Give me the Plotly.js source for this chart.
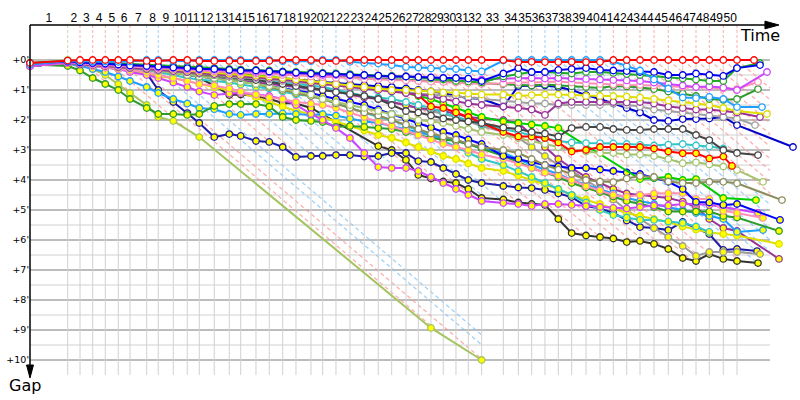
<!DOCTYPE html>
<html><head><meta charset="utf-8">
<script src="https://cdn.plot.ly/plotly-3.0.1.min.js"></script>
<style>html,body{margin:0;padding:0;background:#fff}#c{width:800px;height:400px}</style>
</head><body><div id="c"></div>
<script>
// leader's lap end times (s), index 0 = start
const LAP_END = [0, 64.1, 85.0, 106.6, 128.0, 150.1, 170.0, 198.4, 218.1, 243.6, 267.4, 287.8, 313.3, 338.8, 358.2, 384.2, 406.8, 429.6, 452.2, 477.7, 497.6, 520.2, 544.0, 568.3, 592.1, 614.9, 639.2, 660.2, 681.7, 702.6, 724.2, 745.2, 767.9, 804.7, 830.2, 852.9, 875.5, 898.2, 920.9, 945.3, 969.1, 991.7, 1014.5, 1037.1, 1060.9, 1085.2, 1109.7, 1132.3, 1154.9, 1178.7, 1202.0];
const LAP_LABELS = Array.from({length:50},(_,i)=>String(i+1));
// leader of each lap: g = yellow-green car, r = red car, b = light blue car
const LAP_LEADER = ['g','r','r','r','r','r','b','b','r','r','b','b','b','b','b','b','r','r','r','b','b','r','r','r','r','r','r','r','r','r','r','r','r','b','b','b','b','b','b','b','r','r','r','r','r','r','r','r','r','r'];
const GAP_TICKS = [0,1,2,3,4,5,6,7,8,9,10];
const GAP_LABELS = GAP_TICKS.map(v=>"+"+v+"'");
const T_GRID_END = 1258;
const STOPPED_CAR = 'YG_Y';      // car that stood still from lap 11
const GUIDES_FOLLOWING_STOPPED = 8; // guide lines of laps 1..8 run down along that car

// gaps (minutes) per lap 0..50
const RED_W = [0.1,0.02,0,0,0,0,0,0.03,0.03,0,0,0.03,0.03,0.03,0.03,0.03,0.03,0,0,0,0.03,0.03,0,0,0,0,0,0,0,0,0,0,0,0,0.07,0.06,0.07,0.07,0.06,0.07,0.07,0,0,0,0,0,0,0,0,0,0];
const LB_W = [0.15,0.03,0.04,0.05,0.05,0.06,0.05,0,0,0.03,0.03,0,0,0,0,0,0,0.04,0.05,0.04,0,0,0.06,0.1,0.12,0.17,0.23,0.25,0.28,0.3,0.3,0.35,0.38,0.02,0,0,0,0,0,0,0,0.05,0.2,0.35,0.65,0.95,1.25,1.27,1.23,1.3,1.57];
const BLUE_W = [0.12,0.05,0.08,0.1,0.12,0.15,0.18,0.2,0.22,0.25,0.27,0.3,0.3,0.33,0.35,0.35,0.38,0.4,0.42,0.45,0.45,0.47,0.5,0.5,0.52,0.55,0.55,0.57,0.58,0.6,0.6,0.62,0.7,0.45,0.27,0.4,0.4,0.33,0.3,0.27,0.33,0.35,0.37,0.4,0.4,0.5,0.5,0.45,0.5,0.53,0.27];
const GREEN_W = [0.1,0.03,0.05,0.07,0.08,0.1,0.12,0.15,0.17,0.2,0.22,0.25,0.27,0.3,0.32,0.33,0.35,0.38,0.4,0.42,0.43,0.45,0.47,0.5,0.52,0.53,0.55,0.58,0.62,0.65,0.7,0.72,0.75,0.55,0.47,0.4,0.4,0.42,0.45,0.4,0.4,0.43,0.47,0.5,0.55,0.6,0.62,0.65,0.7,0.7,0.27];
const MAG_W = [0.2,0.08,0.1,0.12,0.15,0.17,0.2,0.22,0.25,0.27,0.3,0.32,0.33,0.35,0.38,0.4,0.42,0.43,0.45,0.47,0.5,0.5,0.52,0.53,0.55,0.55,0.55,0.57,0.58,0.6,0.62,0.63,0.65,0.62,0.6,0.6,0.62,0.6,0.62,0.63,0.65,0.67,0.68,0.7,0.75,0.8,0.85,0.9,0.88,0.92,1.0];
const PINK_W = [0.2,0.1,0.12,0.15,0.18,0.2,0.22,0.25,0.28,0.3,0.33,0.35,0.38,0.4,0.43,0.45,0.48,0.5,0.52,0.55,0.57,0.6,0.62,0.63,0.65,0.67,0.68,0.7,0.72,0.73,0.75,0.77,0.8,0.78,0.75,0.75,0.73,0.72,0.75,0.78,0.8,0.82,0.83,0.83,0.85,0.87,0.9,0.9,0.92,0.95,0.97];
const GREEN2_W = [0.15,0.1,0.12,0.15,0.17,0.2,0.22,0.25,0.27,0.3,0.32,0.35,0.37,0.4,0.42,0.45,0.47,0.48,0.5,0.52,0.53,0.55,0.57,0.6,0.62,0.63,0.65,0.68,0.7,0.72,0.73,0.75,0.78,0.8,0.83,0.85,0.82,0.85,0.88,0.9,0.93,0.87,0.88,0.92,0.97,1.05,1.12,1.2,1.3,1.33,1.3];
const YELLOW_W = [0.15,0.05,0.08,0.12,0.15,0.18,0.22,0.25,0.28,0.32,0.35,0.38,0.42,0.45,0.48,0.52,0.55,0.6,0.65,0.7,0.75,0.8,0.85,0.9,0.95,1.0,1.0,1.02,1.05,1.08,1.1,1.12,1.15,1.15,1.2,1.17,1.15,1.15,1.17,1.2,1.2,1.2,1.22,1.25,1.3,1.35,1.4,1.45,1.5,1.6,1.7];
const PURPLE_W = [0.2,0.1,0.13,0.17,0.2,0.23,0.27,0.3,0.33,0.37,0.4,0.43,0.47,0.5,0.53,0.57,0.6,0.65,0.7,0.75,0.8,0.85,0.9,0.95,1.0,1.05,1.1,1.15,1.2,1.3,1.38,1.45,1.5,1.55,1.6,1.65,1.83,1.45,1.4,1.4,1.4,1.4,1.42,1.4,1.45,1.55,1.6,1.65,1.65,1.7,1.75];
const GRAY_W = [0.2,0.1,0.12,0.15,0.2,0.25,0.28,0.3,0.35,0.38,0.4,0.45,0.5,0.55,0.58,0.6,0.65,0.7,0.75,0.78,0.8,0.85,0.9,0.95,1.0,1.05,1.1,1.12,1.15,1.18,1.2,1.25,1.3,1.35,1.4,1.45,1.45,1.5,1.5,1.5,1.5,1.45,1.5,1.55,1.65,1.7,1.75,1.8,1.85,1.9,1.95];
const BLUE2_W = [0.2,0.1,0.13,0.15,0.18,0.2,0.23,0.27,0.3,0.33,0.37,0.4,0.43,0.47,0.5,0.55,0.58,0.62,0.65,0.7,0.73,0.77,0.8,0.83,0.87,0.9,0.95,1.0,1.05,1.1,1.2,1.27,1.3,1.55,0.87,0.85,0.85,0.9,1.0,1.17,1.3,1.45,1.6,1.75,2.0,2.03,1.97,1.97,1.95,1.9,2.17];
const DGRAY_W = [0.2,0.08,0.1,0.13,0.17,0.2,0.23,0.27,0.3,0.35,0.4,0.45,0.5,0.55,0.6,0.67,0.73,0.8,0.87,0.93,1.0,1.07,1.13,1.2,1.3,1.5,1.7,1.75,1.85,1.95,2.0,2.05,2.1,2.25,2.3,2.4,2.45,2.55,2.27,2.23,2.23,2.3,2.33,2.33,2.3,2.3,2.3,2.5,2.67,3.0,3.1];
const RED_Y = [0.2,0.1,0.12,0.15,0.18,0.2,0.22,0.25,0.28,0.3,0.33,0.38,0.42,0.45,0.5,0.55,0.58,0.62,0.65,0.7,0.75,0.8,0.85,0.9,0.95,1.0,1.1,1.17,1.55,1.6,1.75,1.9,2.1,2.4,2.55,2.55,2.6,2.75,3.05,3.0,2.9,2.9,2.9,2.9,2.95,3.05,3.11,3.11,3.28,3.22,null];
const CYAN_W = [0.15,0.05,0.08,0.1,0.13,0.17,0.2,0.25,0.3,0.35,0.4,0.45,0.5,0.55,0.6,0.65,0.7,0.75,0.8,0.85,0.9,1.0,1.1,1.2,1.25,1.3,1.4,1.5,1.6,1.75,1.9,2.0,2.15,2.3,2.4,2.5,2.6,2.7,2.75,2.77,2.77,2.78,2.8,2.83,2.85,2.82,2.8,2.85,2.88,2.95,null];
const YG_W = [0.2,0.1,0.13,0.15,0.2,0.25,0.28,0.32,0.37,0.42,0.5,0.55,0.6,0.67,0.73,0.8,0.87,0.95,1.05,1.15,1.3,1.4,1.5,1.6,1.7,1.8,1.9,2.0,2.05,2.1,2.2,2.3,2.4,2.5,2.6,2.7,2.8,2.9,3.0,3.05,3.1,3.1,3.15,3.15,3.2,3.3,3.44,3.41,3.48,3.55,3.67];
const OLIVE_W = [0.2,0.1,0.12,0.15,0.18,0.22,0.25,0.3,0.35,0.4,0.45,0.5,0.55,0.6,0.7,0.8,0.9,1.0,1.1,1.2,1.3,1.45,1.6,1.75,1.85,2.0,2.15,2.3,2.45,2.55,2.65,2.8,2.9,3.0,3.1,3.3,3.5,3.65,3.8,4.0,4.05,4.07,3.95,3.87,3.9,4.05,4.1,4.1,4.06,4.06,4.11];
const BGREEN_Y = [0.15,0.05,0.08,0.1,0.12,0.15,0.18,0.2,0.23,0.26,0.3,0.33,0.37,0.4,0.45,0.5,0.55,0.6,0.65,0.7,0.75,0.8,0.85,0.9,0.95,1.0,1.1,1.2,1.3,1.45,1.6,1.75,1.9,2.05,2.1,2.15,2.2,2.27,null,null,null,null,null,3.97,3.93,3.9,4.0,3.97,null,4.6,null];
const BLUE_Y = [0.15,0.08,0.1,0.13,0.17,0.2,0.25,0.3,0.35,0.4,0.5,0.55,0.6,0.65,0.72,0.8,0.87,0.95,1.03,1.1,1.2,1.3,1.4,1.5,1.65,1.8,1.95,2.1,2.25,2.4,2.5,2.65,2.8,3.2,3.3,3.4,3.5,3.55,3.6,3.6,3.65,3.7,3.75,3.8,3.93,4.06,4.3,4.73,4.75,4.83,4.8];
const PINK_Y = [0.2,0.1,0.15,0.2,0.25,0.3,0.35,0.4,0.5,0.6,0.7,0.8,0.85,0.95,1.05,1.15,1.25,1.3,1.4,1.45,1.5,1.6,1.75,1.9,2.05,2.2,2.35,2.5,2.65,2.8,2.9,3.0,3.15,3.3,3.45,3.6,3.75,3.85,4.0,4.2,4.35,4.5,4.55,4.5,4.45,4.44,4.44,4.63,4.63,5.03,5.1];
const MAG_Y = [0.2,0.1,0.15,0.2,0.25,0.3,0.4,0.5,0.6,0.75,0.9,1.05,1.17,1.12,1.1,1.15,1.2,1.3,1.5,1.8,2.0,2.27,2.6,3.1,3.57,3.6,3.6,3.7,3.9,4.1,4.3,4.5,4.7,4.77,4.8,4.87,4.8,4.8,4.83,4.87,4.9,4.93,4.95,4.9,4.85,4.85,4.8,4.8,4.83,4.9,null];
const DGREEN_Y = [0.15,0.2,0.35,0.6,0.8,1.0,1.3,1.6,1.8,1.8,1.83,1.8,1.53,1.47,1.47,1.47,1.55,1.9,2.0,2.03,2.07,2.23,2.2,2.23,2.27,2.3,2.4,2.5,2.6,2.65,2.7,2.8,2.95,3.2,3.4,3.6,3.75,3.9,4.1,4.25,4.4,4.55,4.7,4.8,4.9,5.05,5.05,5.05,5.05,5.2,5.25];
const LB_Y = [0.2,0.1,0.2,0.3,0.4,0.55,0.7,0.9,1.1,1.3,1.45,1.6,1.64,1.8,1.83,1.8,1.8,1.78,1.8,1.83,1.8,1.85,1.95,2.05,2.1,2.2,2.3,2.4,2.5,2.6,2.7,2.8,2.95,3.1,3.3,3.5,3.65,3.8,4.0,4.15,4.3,4.45,4.6,4.7,4.8,4.9,5.0,5.1,5.2,5.3,5.73];
const CYAN_Y = [0.15,0.08,0.1,0.15,0.2,0.25,0.3,0.35,0.4,0.5,0.6,0.65,0.7,0.75,0.82,0.9,0.95,1.05,1.15,1.2,1.3,1.45,1.6,1.75,1.9,2.0,2.2,2.35,2.5,2.7,2.9,3.1,3.3,3.5,3.7,3.9,4.1,4.3,4.5,4.75,5.0,5.17,5.25,5.33,5.33,5.38,5.43,5.55,5.73,null,null];
const YELLOW_Y = [0.2,0.1,0.15,0.2,0.25,0.3,0.35,0.45,0.55,0.6,0.7,0.8,0.9,1.0,1.1,1.25,1.4,1.55,1.7,1.8,1.9,2.05,2.2,2.35,2.5,2.6,2.75,2.9,3.05,3.2,3.3,3.45,3.6,3.7,3.85,4.0,4.15,4.3,4.5,4.65,4.8,4.95,5.1,5.2,5.3,5.4,5.55,5.65,5.75,5.8,5.85];
const PURPLE_Y = [0.2,0.1,0.13,0.15,0.2,0.23,0.27,0.3,0.35,0.42,0.5,0.55,0.6,0.65,0.7,0.75,0.8,0.85,0.9,0.95,1.0,1.05,1.15,1.25,1.3,1.4,1.5,1.6,1.65,1.7,1.8,1.9,1.95,2.0,2.1,2.5,2.9,3.3,3.6,3.9,4.1,4.3,4.45,4.5,4.55,4.6,4.72,4.9,5.3,5.6,5.7];
const GRAY_Y = [0.2,0.1,0.13,0.17,0.2,0.25,0.3,0.33,0.38,0.42,0.47,0.5,0.55,0.6,0.65,0.7,0.75,0.8,0.85,0.9,1.0,1.05,1.1,1.2,1.3,1.4,1.5,1.6,1.7,1.8,1.9,2.05,2.2,2.4,2.6,2.9,3.2,3.5,3.7,4.0,4.3,4.65,5.0,5.3,5.6,5.9,6.2,6.53,6.4,6.4,6.4];
const NAVY_Y = [0.1,0.12,0.15,0.2,0.25,0.3,0.35,0.45,1.0,1.4,1.77,2.1,2.57,2.47,2.53,2.7,2.73,2.9,3.23,3.2,3.2,3.17,3.17,3.22,3.2,3.1,3.1,3.37,3.4,3.6,3.8,4.0,4.1,4.2,4.25,4.27,4.33,4.45,4.57,4.87,4.95,5.1,5.35,5.57,5.6,5.67,5.4,5.6,5.8,6.33,6.3];
const DGRAY_Y = [0.1,0.05,0.08,0.1,0.15,0.2,0.25,0.3,0.35,0.4,0.43,0.6,0.85,1.17,1.15,1.2,1.3,1.43,1.45,1.6,null,null,null,null,2.87,3.0,3.33,3.83,3.95,4.05,4.1,4.3,4.6,4.65,4.75,4.8,4.83,5.3,5.77,5.85,5.9,5.95,6.07,6.03,6.13,6.3,6.6,6.7,6.47,6.63,6.7];
const YG_Y = [0.15,0,0.15,0.3,0.5,0.8,1.1,1.5,1.9,2.03,null,2.57,null,null,null,null,null,null,null,null,null,null,null,null,null,null,null,null,8.93,null,null,null,10.0,null,null,null,null,null,null,null,null,null,null,null,null,null,null,null,null,null,null];

// name, gaps, line colour, marker fill, finish time (s), finish gap (min)
const SERIES = [
 ['YG_Y',YG_Y,'#a3c45e','#ffff00',null,null],
 ['DGRAY_Y',DGRAY_Y,'#333333','#ffff00',1237.7,6.77],
 ['NAVY_Y',NAVY_Y,'#1c1ca8','#ffff00',1236.0,6.37],
 ['GRAY_Y',GRAY_Y,'#9a9a9a','#ffff00',1241.1,6.47],
 ['PURPLE_Y',PURPLE_Y,'#993399','#ffff00',1273.4,6.63],
 ['YELLOW_Y',YELLOW_Y,'#dede00','#ffff00',1273.4,6.13],
 ['CYAN_Y',CYAN_Y,'#33c6c6','#ffff00',null,null],
 ['LB_Y',LB_Y,'#1e9fff','#ffff00',1246.2,5.67],
 ['DGREEN_Y',DGREEN_Y,'#2e9b2e','#ffff00',1273.4,5.7],
 ['MAG_Y',MAG_Y,'#cc44ff','#ffff00',1237.7,5.1],
 ['PINK_Y',PINK_Y,'#ff8fb4','#ffff00',1246.2,5.27],
 ['BLUE_Y',BLUE_Y,'#0000ff','#ffff00',1275.1,5.33],
 ['BGREEN_Y',BGREEN_Y,'#00cc00','#ffff00',1234.2,4.67],
 ['OLIVE_W',OLIVE_W,'#8c8c5a','#ffffff',1278.5,4.67],
 ['YG_W',YG_W,'#a3c46b','#ffffff',1246.2,4.06],
 ['CYAN_W',CYAN_W,'#33c6c6','#ffffff',null,null],
 ['RED_Y',RED_Y,'#ff0000','#ffff00',1193.5,3.53],
 ['DGRAY_W',DGRAY_W,'#444444','#ffffff',1237.7,3.17],
 ['BLUE2_W',BLUE2_W,'#0000cc','#ffffff',1297.2,2.9],
 ['GRAY_W',GRAY_W,'#a0a0a0','#ffffff',1232.6,2.17],
 ['PURPLE_W',PURPLE_W,'#993399','#ffffff',1241.1,1.9],
 ['YELLOW_W',YELLOW_W,'#dede00','#ffffff',1253.0,1.8],
 ['GREEN2_W',GREEN2_W,'#2e9b2e','#ffffff',1237.7,0.97],
 ['PINK_W',PINK_W,'#ff8fb4','#ffffff',1237.7,0.73],
 ['MAG_W',MAG_W,'#cc44ff','#ffffff',1253.0,0.4],
 ['GREEN_W',GREEN_W,'#22aa22','#ffffff',1241.1,0.1],
 ['BLUE_W',BLUE_W,'#0000ee','#ffffff',1241.1,0.17],
 ['LB_W',LB_W,'#1e9fff','#ffffff',1244.5,1.57],
 ['RED_W',RED_W,'#ff0000','#ffffff',1230.9,0]
];

const pts = SERIES.map(([name,g,col,fill,ft,fg])=>{
  const x=[], y=[];
  LAP_END.forEach((t,i)=>{ if(g[i]!==null){x.push(t);y.push(g[i]);} });
  if (ft!==null){ x.push(ft); y.push(fg); }
  return {name,x,y};
});
const traces = SERIES.map(([name,g,col,fill],i)=>({type:'scatter',mode:'lines+markers',name,x:pts[i].x,y:pts[i].y,cliponaxis:false,
    line:{color:col,width:2},marker:{size:6.5,color:fill,line:{color:col,width:1.3}},hoverinfo:'skip'}));

// lowest car at time t, used to stop the diagonal guides
function envelope(t, withStopped){
  let m=0;
  pts.forEach(p=>{
    if(!withStopped && p.name===STOPPED_CAR) return;
    for(let j=0;j<p.x.length-1;j++){
      if(t>=p.x[j] && t<=p.x[j+1]){
        const f=(t-p.x[j])/(p.x[j+1]-p.x[j]||1); m=Math.max(m,p.y[j]+f*(p.y[j+1]-p.y[j])); break;
      }
    }
  });
  return m;
}

const shapes = [];
const TOPGAP = -1.1667, BOTGAP = 10.5;
for (let v=0.5; v<=10; v+=0.5){
  const major = Number.isInteger(v);
  shapes.push({type:'line',layer:'below',xref:'x',yref:'y',x0:0,x1:T_GRID_END,y0:v,y1:v,line:{color:major?'#7a7a7a':'#d0d0d0',width:1}});
}
shapes.push({type:'line',layer:'below',xref:'x',yref:'y',x0:0,x1:T_GRID_END,y0:0,y1:0,line:{color:'#7a7a7a',width:1}});
const LC = {r:'rgba(255,140,140,0.7)', b:'rgba(130,195,245,0.75)', g:'rgba(205,210,160,0.9)'};
for (let k=1;k<=50;k++){
  const t=LAP_END[k], c=LC[LAP_LEADER[k-1]];
  shapes.push({type:'line',layer:'below',xref:'x',yref:'y',x0:t,x1:t,y0:0,y1:BOTGAP,line:{color:'#d0d0d0',width:1}});
  shapes.push({type:'line',layer:'below',xref:'x',yref:'y',x0:t,x1:t,y0:TOPGAP,y1:0,line:{color:c,width:1,dash:'3px,2px'}});
  const ws = k<=GUIDES_FOLLOWING_STOPPED;
  let te=t;
  while(te<T_GRID_END){ const n=te+1; if((n-t)/60>envelope(n,ws)) break; te=n; }
  if(te>t) shapes.push({type:'line',layer:'below',xref:'x',yref:'y',x0:t,x1:te,y0:0,y1:(te-t)/60,line:{color:c,width:1.3,dash:'4px,3px'}});
}
// axes with arrows
shapes.push({type:'line',xref:'paper',yref:'paper',x0:0,x1:0.962,y0:1,y1:1,line:{color:'#000',width:1.5}});
shapes.push({type:'path',xref:'paper',yref:'paper',path:'M 0.9545 1.011 L 0.9727 1 L 0.9545 0.989 Z',fillcolor:'#000',line:{color:'#000',width:1}});
shapes.push({type:'line',xref:'paper',yref:'paper',x0:0,x1:0,y0:1,y1:0.01,line:{color:'#000',width:1.5}});
shapes.push({type:'path',xref:'paper',yref:'paper',path:'M -0.0045 0.0286 L 0 -0.0086 L 0.0045 0.0286 Z',fillcolor:'#000',line:{color:'#000',width:1}});

const centers = LAP_END.slice(1).map((t,i)=>(t+LAP_END[i])/2);
const layout = {
  width:800,height:400,margin:{l:30,r:0,t:25,b:25},paper_bgcolor:'#fff',plot_bgcolor:'#fff',showlegend:false,
  xaxis:{range:[0,1309.1],side:'top',tickmode:'array',tickvals:centers,ticktext:LAP_LABELS,tickangle:0,showgrid:false,zeroline:false,showline:false,ticks:'',
    tickfont:{family:'Liberation Sans, Arial, sans-serif',size:12,color:'#000'},fixedrange:true},
  yaxis:{range:[BOTGAP,TOPGAP],tickmode:'array',tickvals:GAP_TICKS,ticktext:GAP_LABELS,showgrid:false,zeroline:false,showline:false,ticks:'',
    tickfont:{family:'DejaVu Sans, sans-serif',size:9.5,color:'#000'},fixedrange:true},
  shapes,
  annotations:[
    {xref:'paper',yref:'paper',x:0.948,y:0.971,xanchor:'center',yanchor:'middle',text:'Time',showarrow:false,font:{family:'DejaVu Sans, sans-serif',size:16,color:'#000'}},
    {xref:'paper',yref:'paper',x:-0.0065,y:-0.031,xanchor:'center',yanchor:'middle',text:'Gap',showarrow:false,font:{family:'DejaVu Sans, sans-serif',size:16,color:'#000'}}
  ]
};
Plotly.newPlot('c',traces,layout,{staticPlot:true,displayModeBar:false});
</script></body></html>
